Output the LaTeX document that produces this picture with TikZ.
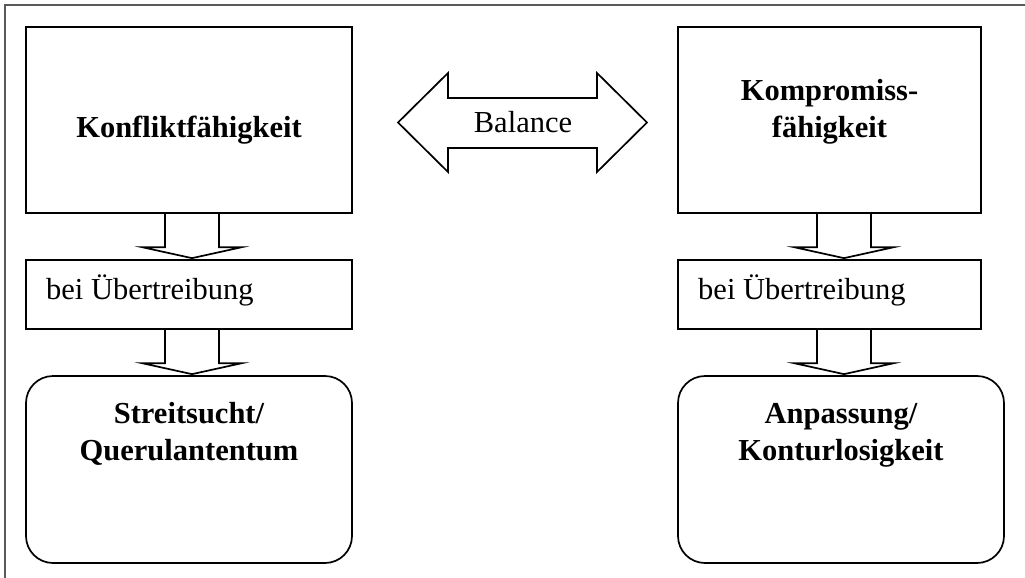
\documentclass[tikz,border=0pt]{standalone}
\usepackage{fontspec}
\setmainfont{Liberation Serif}
\usetikzlibrary{calc}
\tikzset{
  box/.style={draw, line width=1.7pt, inner sep=0pt, anchor=center},
  rbox/.style={box, rounded corners=27pt},
  txt/.style={inner sep=0pt, anchor=base, align=center, font=\fontsize{30.5}{37}\selectfont},
  btxt/.style={txt, font=\fontsize{30.5}{37}\selectfont\bfseries},
  blk/.style={draw, line width=1.7pt, line join=miter},
  frame/.style={draw=black!65, line width=1.2pt}
}
\newcommand\blockdown[3]{%
  \draw[blk] ({#1-27},0 |- #2.south)
    -- ($({#1-27},0 |- #3.north)+(0,-12)$)
    -- ($({#1-50},0 |- #3.north)+(0,-12)$)
    -- ($(#1,0 |- #3.north)+(0,-1)$)
    -- ($({#1+50},0 |- #3.north)+(0,-12)$)
    -- ($({#1+27},0 |- #3.north)+(0,-12)$)
    -- ({#1+27},0 |- #2.south);
}
\begin{document}
\begin{tikzpicture}[x=1pt,y=-1pt]
\useasboundingbox (0,0) rectangle (1025,578);
\draw[frame] (5,578) -- (5,5) -- (1025,5);

% boxes
\node[box, minimum width=326pt, minimum height=186pt] (kf) at (189,120) {};
\node[box, minimum width=303pt, minimum height=186pt] (kp) at (829.5,120) {};
\node[box, minimum width=326pt, minimum height=69pt] (ul) at (189,294.5) {};
\node[box, minimum width=303pt, minimum height=69pt] (ur) at (829.5,294.5) {};
\node[rbox, minimum width=326pt, minimum height=187pt] (sq) at (189,469.5) {};
\node[rbox, minimum width=326pt, minimum height=187pt] (ak) at (841,469.5) {};

% texts
\node[btxt] (kft) at (189,137) {Konfliktfähigkeit};
\node[btxt] (kpt) at (829.5,137) {Kompromiss-\\fähigkeit};
\node[txt, anchor=base west] (ult) at (46,299) {bei Übertreibung};
\node[txt, anchor=base west] (urt) at (698,299) {bei Übertreibung};
\node[btxt] (sqt) at (189,460) {Streitsucht/\\Querulantentum};
\node[btxt] (akt) at (841,460) {Anpassung/\\Konturlosigkeit};

% balance arrow
\draw[blk] (398,122.5) -- (448,73) -- (448,98) -- (597,98) -- (597,73)
  -- (647,122.5) -- (597,172) -- (597,148) -- (448,148) -- (448,172) -- cycle;
\node[txt] (bal) at (523,132) {Balance};

% down arrows
\blockdown{192}{kf}{ul}
\blockdown{192}{ul}{sq}
\blockdown{844}{kp}{ur}
\blockdown{844}{ur}{ak}
\end{tikzpicture}
\end{document}
